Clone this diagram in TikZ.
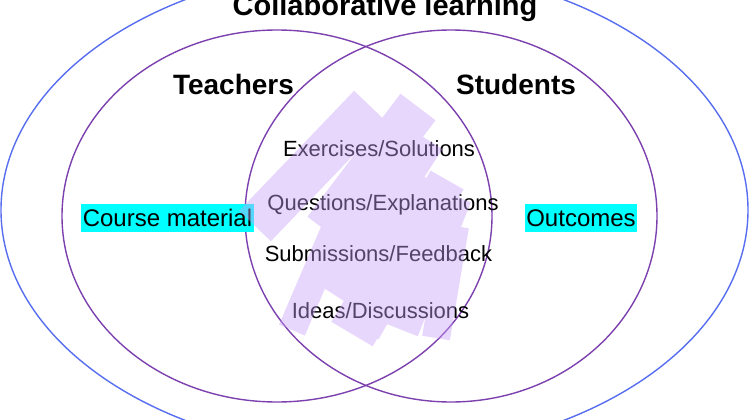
\documentclass[tikz,border=0pt]{standalone}
\usepackage{fontspec}
\setmainfont{Liberation Sans}
\definecolor{outerblue}{RGB}{88,110,240}
\definecolor{venn}{RGB}{125,65,175}
\definecolor{scrib}{RGB}{200,160,248}
\definecolor{hl}{RGB}{0,255,255}
\tikzset{
  titletext/.style={font=\fontsize{29}{34}\selectfont\bfseries, anchor=base, inner sep=0pt},
  grouptext/.style={font=\fontsize{28}{33}\selectfont\bfseries, anchor=base, inner sep=0pt},
  sidetext/.style={font=\fontsize{24}{28}\selectfont, anchor=base, fill=hl, inner xsep=1.5pt, inner ysep=5.5pt, text height=17.5pt, text depth=0pt},
  midtext/.style={font=\fontsize{22}{26}\selectfont, anchor=base, inner sep=0pt},
  band/.style={draw=scrib, line cap=butt},
  vennline/.style={draw=venn, line width=1.4pt},
}
\begin{document}
\begin{tikzpicture}[x=1pt,y=-1pt]
\useasboundingbox (0,0) rectangle (750,420);
\clip (0,0) rectangle (750,420);
\fill[white] (0,0) rectangle (750,420);
% outer ellipse
\draw[outerblue, line width=1.4pt] (374.5,210) ellipse [x radius=373.5, y radius=244];
% two sets
\draw[vennline] (277,216) ellipse [x radius=215, y radius=186];
\draw[vennline] (451,216) ellipse [x radius=206, y radius=186];
% texts
\node[titletext] (title) at (385,16) {Collaborative learning};
\node[grouptext] (teachers) at (233.5,95) {Teachers};
\node[grouptext] (students) at (516,95) {Students};
\node[sidetext] (course) at (167.5,226.5) {Course material};
\node[sidetext] (outcomes) at (581,226.5) {Outcomes};
\node[midtext] (ex) at (379,156) {Exercises/Solutions};
\node[midtext] (qu) at (383,210) {Questions/Explanations};
\node[midtext] (sub) at (378.5,261) {Submissions/Feedback};
\node[midtext] (ideas) at (380.5,318) {Ideas/Discussions};
% scribble
\begin{scope}[transparency group, opacity=0.42]
\draw[band, line width=44pt] (255,226) -- (370,106);
\draw[band, line width=44pt] (325,230) -- (418,107);
\draw[band, line width=34pt] (330,292) -- (428,140);
\draw[band, line width=38pt] (362,330) -- (447,180);
\draw[band, line width=28pt] (292,330) -- (340,218);
\draw[band, line width=48pt] (352,334) -- (440,186);
\draw[band, line width=34pt] (402,330) -- (455,196);
\draw[band, line width=28pt] (436,338) -- (455,226);
\end{scope}
\end{tikzpicture}
\end{document}
